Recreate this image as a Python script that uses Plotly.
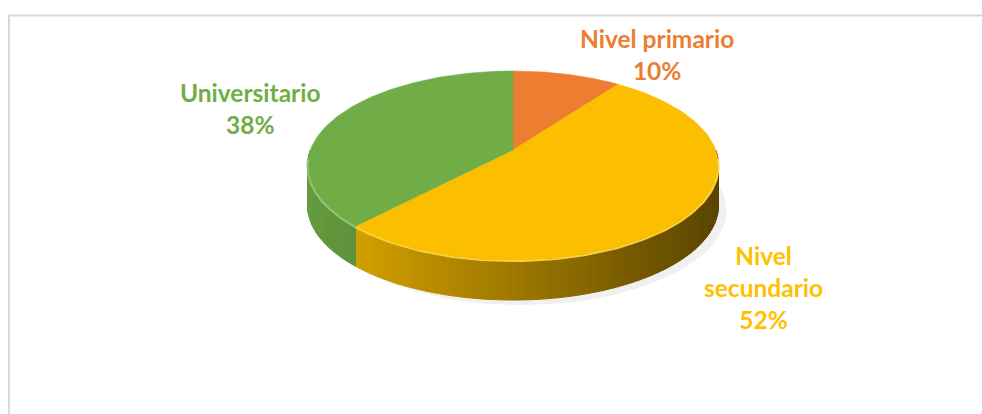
import numpy as np
import plotly.graph_objects as go

# Education level shares
categories = ["Nivel primario", "Nivel secundario", "Universitario"]
shares = [10, 52, 38]
label_text = ["Nivel primario", "Nivel<br>secundario", "Universitario"]
top_colors = ["#ED7D31", "#FBBF00", "#70AD47"]
label_colors = ["#ED7D31", "#FFC000", "#70AD47"]

W, H = 982, 414

# Tilted disc seen in perspective (screen units)
x0, y0 = 513, 150      # projected centre of the disc (where slices meet)
A, B = 202.7, 92.0     # horizontal / vertical scale of the projected circle
q = 0.164              # perspective strength (front edge closer to viewer)
depth = 40             # thickness of the disc


def rim(theta_deg, dy=0.0):
    t = np.radians(theta_deg)
    u, v = np.sin(t), -np.cos(t)       # v = +1 at the front edge
    w = 1.0 - q * v
    return x0 + A * u / w, y0 + B * v / w + dy


def hex_rgb(h):
    h = h.lstrip("#")
    return [int(h[i:i + 2], 16) for i in (0, 2, 4)]


def shade(h, f):
    r, g, bl = hex_rgb(h)
    return "rgb({},{},{})".format(int(r * f), int(g * f), int(bl * f))


def lighten(h, f):
    r, g, bl = hex_rgb(h)
    return "rgb({},{},{})".format(int(r + (255 - r) * f), int(g + (255 - g) * f), int(bl + (255 - bl) * f))


# cumulative angles, clockwise from 12 o'clock
total = sum(shares)
bounds = np.concatenate([[0], np.cumsum(shares)]) / total * 360.0

fig = go.Figure()

# soft shadow under the disc
sh_t = np.linspace(0, 360, 181)
sh_x, sh_y = rim(sh_t, depth + 5)
sh_x = sh_x + 8
fig.add_trace(go.Scatter(x=sh_x, y=sh_y, fill="toself", mode="lines",
                         line=dict(width=0, color="rgba(0,0,0,0)"),
                         fillcolor="rgba(0,0,0,0.06)", hoverinfo="skip", showlegend=False))

# visible side wall (front half), shaded from left to right
x_left, x_right = x0 - A * 1.014, x0 + A * 1.014
for i in range(len(shares)):
    s0, s1 = max(bounds[i], 90.0), min(bounds[i + 1], 270.0)
    if s1 <= s0:
        continue
    n = max(2, int(np.ceil((s1 - s0) / 2.0)))
    edges = np.linspace(s0, s1, n + 1)
    for j in range(n):
        tt = np.linspace(edges[j], edges[j + 1], 4)
        xs, ys = rim(tt)
        xs2, ys2 = rim(tt[::-1], depth)
        xm = float(np.mean(xs))
        f = 0.90 - (xm - x_left) / (x_right - x_left) * 0.54
        col = shade(top_colors[i], f)
        fig.add_trace(go.Scatter(
            x=np.concatenate([xs, xs2, xs[:1]]), y=np.concatenate([ys, ys2, ys[:1]]),
            fill="toself", mode="lines", line=dict(width=1, color=col),
            fillcolor=col, hoverinfo="skip", showlegend=False))

# top faces
for i in range(len(shares)):
    tt = np.linspace(bounds[i], bounds[i + 1], 120)
    xs, ys = rim(tt)
    px = np.concatenate([[x0], xs, [x0]])
    py = np.concatenate([[y0], ys, [y0]])
    fig.add_trace(go.Scatter(x=px, y=py, fill="toself", mode="lines",
                             line=dict(width=0.5, color=top_colors[i]),
                             fillcolor=top_colors[i], hoverinfo="skip",
                             showlegend=False, name=categories[i]))

# bevel highlight along the front rim
for i in range(len(shares)):
    s0, s1 = max(bounds[i], 95.0), min(bounds[i + 1], 265.0)
    if s1 <= s0:
        continue
    tt = np.linspace(s0, s1, 80)
    xs, ys = rim(tt, 1.0)
    fig.add_trace(go.Scatter(x=xs, y=ys, mode="lines",
                             line=dict(width=2, color=lighten(top_colors[i], 0.25)),
                             hoverinfo="skip", showlegend=False))

# data labels
label_pos = [(657, 54), (763, 287), (250, 108)]
for i in range(len(shares)):
    fig.add_annotation(x=label_pos[i][0], y=label_pos[i][1],
                       text="<b>{}<br>{}%</b>".format(label_text[i], shares[i]),
                       showarrow=False, align="center",
                       font=dict(family="Lato", size=24.5, color=label_colors[i]))

# chart area frame
fig.add_shape(type="rect", x0=9, y0=15.5, x1=W + 10, y1=H + 10,
              line=dict(color="#D9D9D9", width=2), layer="below")

fig.update_xaxes(range=[0, W], visible=False, fixedrange=True)
fig.update_yaxes(range=[H, 0], visible=False, fixedrange=True)
fig.update_layout(width=W, height=H, margin=dict(l=0, r=0, t=0, b=0),
                  paper_bgcolor="white", plot_bgcolor="white", showlegend=False)

fig.write_html("out.html", config={"displayModeBar": False})
